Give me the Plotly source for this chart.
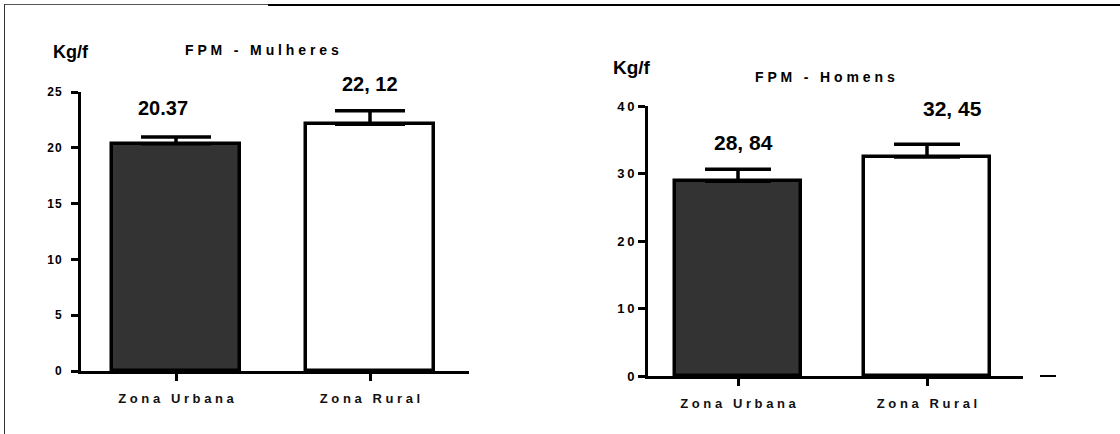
import plotly.graph_objects as go

# ---------------- data ----------------
categories = ["Zona Urbana", "Zona Rural"]
women_values = [20.37, 22.12]
women_errors = [0.6, 1.2]
men_values = [28.84, 32.45]
men_errors = [1.8, 1.9]
women_labels = ["20.37", "22, 12"]
men_labels = ["28, 84", "32, 45"]
women_ticks = [0, 5, 10, 15, 20, 25]
men_ticks = [0, 10, 20, 30, 40]
panel_titles = ["FPM - Mulheres", "FPM - Homens"]
unit_label = "Kg/f"

# ---------------- styling ----------------
W, H = 1120, 434
FONT = "Liberation Sans, Arial, sans-serif"
bar_colors = ["#333333", "#ffffff"]


def px(x):
    return x / W


def py(y):
    return 1 - y / H


def spaced(s, sep=" "):
    return sep.join(list(s))


def tick_text(vals, sep):
    return [sep.join(list(str(v))) for v in vals]


fig = go.Figure()

xs = list(range(len(categories)))

fig.add_trace(go.Bar(
    x=xs, y=women_values, width=0.66,
    marker=dict(color=bar_colors, line=dict(color="black", width=3.5)),
    error_y=dict(type="data", symmetric=False, array=women_errors,
                 arrayminus=[0] * len(women_errors),
                 color="black", thickness=3.5, width=35),
    xaxis="x", yaxis="y", showlegend=False,
))
fig.add_trace(go.Bar(
    x=xs, y=men_values, width=0.67,
    marker=dict(color=bar_colors, line=dict(color="black", width=3.5)),
    error_y=dict(type="data", symmetric=False, array=men_errors,
                 arrayminus=[0] * len(men_errors),
                 color="black", thickness=3.5, width=33),
    xaxis="x2", yaxis="y2", showlegend=False,
))

catfont = dict(family=FONT, size=13, color="#111111", weight="bold")

common_x = dict(showgrid=False, zeroline=False, showline=True, linecolor="black",
                linewidth=3, ticks="outside", ticklen=7, tickwidth=3,
                tickcolor="black", tickfont=catfont, tickvals=xs,
                ticktext=[spaced(c) for c in categories], ticklabelstandoff=6,
                automargin=False)
common_y = dict(showgrid=False, zeroline=False, showline=True, linecolor="black",
                linewidth=3, ticks="outside", ticklen=7, tickwidth=3,
                tickcolor="black", automargin=False)

fig.update_layout(
    width=W, height=H, autosize=False,
    margin=dict(l=0, r=0, t=0, b=0, pad=0),
    paper_bgcolor="white", plot_bgcolor="white",
    bargap=0,
    xaxis=dict(domain=[px(81), px(469)], range=[(81 - 176) / 194, (469 - 176) / 194],
               anchor="y", **common_x),
    yaxis=dict(domain=[py(371), py(92)], range=[0, 25], anchor="x",
               tickvals=women_ticks, ticktext=tick_text(women_ticks, "\u200a"),
               tickfont=dict(family=FONT, size=12, color="black", weight="bold"),
               ticklabelstandoff=7, **common_y),
    xaxis2=dict(domain=[px(648), px(1023)], range=[(648 - 738) / 189, (1023 - 738) / 189],
                anchor="y2", **common_x),
    yaxis2=dict(domain=[py(376), py(106)], range=[0, 40], anchor="x2",
                tickvals=men_ticks, ticktext=tick_text(men_ticks, "\u2009"),
                tickfont=dict(family=FONT, size=13, color="black", weight="bold"),
                ticklabelstandoff=1, **common_y),
)

# value labels
label_pos_w = [(163, 108), (370, 84)]
label_pos_m = [(743, 142), (952, 108)]
for txt, (x, y) in zip(women_labels, label_pos_w):
    fig.add_annotation(x=px(x), y=py(y), xref="paper", yref="paper", text=txt,
                       showarrow=False, xanchor="center", yanchor="middle",
                       font=dict(family=FONT, size=20, color="black", weight="bold"))
for txt, (x, y) in zip(men_labels, label_pos_m):
    fig.add_annotation(x=px(x), y=py(y), xref="paper", yref="paper", text=txt,
                       showarrow=False, xanchor="center", yanchor="middle",
                       font=dict(family=FONT, size=21, color="black", weight="bold"))

# unit labels and panel titles
for (x, y), size in zip([(71, 52), (632, 67)], [18, 19]):
    fig.add_annotation(x=px(x), y=py(y), xref="paper", yref="paper", text=unit_label,
                       showarrow=False, xanchor="center", yanchor="middle",
                       font=dict(family=FONT, size=size, color="black", weight="bold"))
for t, (x, y) in zip(panel_titles, [(262, 50), (825, 77)]):
    fig.add_annotation(x=px(x), y=py(y), xref="paper", yref="paper", text=spaced(t),
                       showarrow=False, xanchor="center", yanchor="middle",
                       font=dict(family=FONT, size=14, color="black", weight="bold"))

# page frame lines
fig.add_shape(type="line", xref="paper", yref="paper", x0=px(4), x1=px(268),
              y0=py(4.5), y1=py(4.5), line=dict(color="#555555", width=1))
fig.add_shape(type="line", xref="paper", yref="paper", x0=px(268), x1=px(1120),
              y0=py(5), y1=py(5), line=dict(color="black", width=2))
fig.add_shape(type="line", xref="paper", yref="paper", x0=px(4.5), x1=px(4.5),
              y0=py(4), y1=py(434), line=dict(color="#333333", width=1))
fig.add_shape(type="line", xref="paper", yref="paper", x0=px(1040), x1=px(1056),
              y0=py(376), y1=py(376), line=dict(color="black", width=2))

fig.write_html("out.html", config={"displayModeBar": False},
               post_script="document.body.style.margin='0';")
